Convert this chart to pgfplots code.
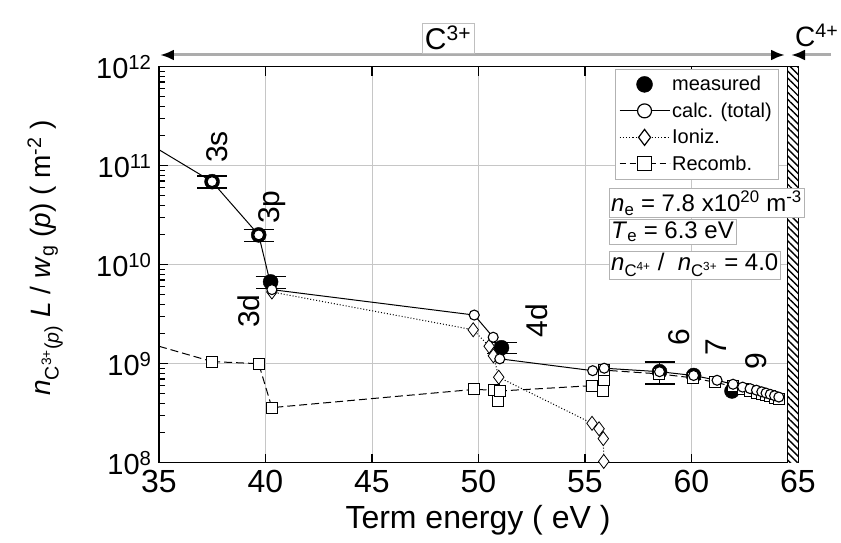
\documentclass[border=0pt]{standalone}
\usepackage{fontspec}
\setmainfont{Liberation Sans}
\usepackage{pgfplots}
\pgfplotsset{compat=1.18}
\usetikzlibrary{patterns.meta,arrows.meta}
\newcommand{\fs}[1]{\fontsize{#1}{#1}\selectfont}

\begin{document}
\begin{tikzpicture}
\begin{axis}[
  name=ax, at={(0,0)}, anchor=south west,
  scale only axis, width=639pt, height=396pt,
  xmin=35, xmax=65, ymode=log, ymin=1e8, ymax=1e12,
  xtick={35,40,45,50,55,60,65},
  xticklabels={35,40,45,50,55,60,65},
  ytick={1e8,1e9,1e10,1e11,1e12},
  yticklabels={10\textsuperscript{8},10\textsuperscript{9},10\textsuperscript{10},10\textsuperscript{11},10\textsuperscript{12}},
  grid=major, major grid style={gray!45, line width=0.9pt},
  axis line style={line width=1.6pt},
  major tick length=9pt, minor tick length=6pt,
  every tick/.style={black, line width=1.1pt},
  tick align=inside,
  xticklabel style={font=\fs{32}, yshift=-4pt},
  yticklabel style={font=\fs{29}, xshift=-4pt},
  legend style={at={(axis description cs:0.9687,0.9937)}, anchor=north east,
    draw=gray!60, font=\fs{20}, row sep=6.5pt, inner xsep=4pt, inner ysep=5pt},
  legend cell align=left,
  legend image code/.code={\draw[mark repeat=2,mark phase=2,#1] plot coordinates {(0pt,0pt) (25pt,0pt) (50pt,0pt)};},
]

% ionisation limit (hatched)
\fill[white] (axis cs:64.49,1e8) rectangle (axis cs:65,1e12);
\fill[pattern={Lines[angle=-45,distance=5pt,line width=1.4pt]}] (axis cs:64.49,1e8) rectangle (axis cs:65,1e12);
\draw[line width=1.2pt] (axis cs:64.49,1e8) -- (axis cs:64.49,1e12);

% lines from lower levels entering the frame
\addplot[black, line width=1pt, forget plot] coordinates {(35,1.45e11) (37.49,6.9e10)};
\addplot[black, line width=1pt, dash pattern=on 8pt off 4pt, forget plot] coordinates {(35,1.5e9) (37.49,1.05e9)};

% measured with error bars
\addplot[only marks, mark=*, mark size=7.5pt, black, forget plot,
  error bars/.cd, y dir=both, y explicit relative,
  error bar style={line width=1.3pt, black},
  error mark options={rotate=90, mark size=15pt, line width=1.3pt}]
  table[x=x, y=y, y error=e] {
x      y       e
37.49  6.9e10  0.14
39.68  2.0e10  0.14
40.24  6.7e9   0.14
51.08  1.45e9  0.12
58.50  8.3e8   0.25
};
\addplot[only marks, mark=*, mark size=7.5pt, black, forget plot] coordinates {
(60.10,7.6e8) (61.90,5.3e8)
};

% recombination
\addplot[black, line width=1pt, dash pattern=on 8pt off 4pt, mark=square*,
  mark size=5.5pt, mark options={solid, fill=white, draw=black, line width=0.8pt}, forget plot]
  coordinates {
(37.49,1.05e9) (39.68,1.0e9) (40.30,3.6e8) (49.80,5.5e8) (50.70,5.4e8)
(50.93,4.2e8) (51.00,5.3e8) (55.33,6.0e8) (55.86,5.3e8) (55.88,6.8e8)
(55.90,8.6e8) (58.45,7.9e8) (60.05,7.2e8) (61.09,6.5e8) (61.95,5.9e8)
(62.40,5.5e8) (62.75,5.3e8) (63.05,5.1e8) (63.30,4.9e8) (63.50,4.8e8)
(63.70,4.7e8) (63.90,4.55e8) (64.10,4.45e8)
};

% ionisation
\addplot[black, line width=1pt, dotted, mark=diamond*,
  mark size=7pt, mark options={solid, fill=white, draw=black, line width=0.8pt}, forget plot]
  coordinates {
(40.30,5.3e9) (49.75,2.2e9) (50.50,1.5e9) (50.70,1.2e9) (50.95,7.3e8)
(55.33,2.5e8) (55.66,2.2e8) (55.86,1.75e8) (55.88,1.03e8)
};

% calculated total
\addplot[black, line width=1pt, mark=*,
  mark size=5pt, mark options={fill=white, draw=black, line width=1.1pt}, forget plot]
  coordinates {
(37.49,6.9e10) (39.68,2.0e10) (40.30,5.6e9) (49.80,3.1e9) (50.69,1.85e9)
(51.00,1.12e9) (55.36,8.5e8) (55.90,9.0e8) (58.50,8.3e8) (60.10,7.6e8)
(61.20,6.8e8) (61.95,6.2e8) (62.40,5.8e8) (62.75,5.6e8) (63.05,5.4e8)
(63.30,5.2e8) (63.50,5.05e8) (63.70,4.9e8) (63.90,4.75e8) (64.10,4.6e8)
};

% legend
\addlegendimage{only marks, mark=*, mark size=8pt, black}
\addlegendentry{measured}
\addlegendimage{black, line width=1.2pt, mark=*, mark size=7pt, mark options={fill=white, draw=black}}
\addlegendentry{calc. (total)}
\addlegendimage{black, line width=1.2pt, dotted, mark=diamond*, mark size=8pt, mark options={solid, fill=white, draw=black}}
\addlegendentry{Ioniz.}
\addlegendimage{black, line width=1.2pt, dash pattern=on 6pt off 4pt, mark=square*, mark size=7pt, mark options={solid, fill=white, draw=black}}
\addlegendentry{Recomb.}

% level labels
\node[rotate=90, font=\fs{30}] at (axis cs:37.72,1.55e11) {3s};
\node[rotate=90, font=\fs{30}] at (axis cs:40.33,3.8e10) {3p};
\node[rotate=90, font=\fs{30}] at (axis cs:39.20,3.4e9) {3d};
\node[rotate=90, font=\fs{30}] at (axis cs:52.74,2.73e9) {4d};
\node[rotate=90, font=\fs{30}] at (axis cs:59.42,1.86e9) {6};
\node[rotate=90, font=\fs{30}] at (axis cs:61.15,1.48e9) {7};
\node[rotate=90, font=\fs{30}] at (axis cs:63.03,1.05e9) {9};
\end{axis}

% plasma parameters
\node[draw=gray!60, fill=white, anchor=west, inner sep=2pt, font=\fs{24}] at (450pt,259.7pt)
  {\textit{n}\textsubscript{e} = 7.8 x10\textsuperscript{20} m\textsuperscript{-3}};
\node[draw=gray!60, fill=white, anchor=west, inner sep=2pt, font=\fs{24}] at (450pt,231pt)
  {\textit{T}\textsubscript{e} = 6.3 eV};
\node[draw=gray!60, fill=white, anchor=west, inner sep=2pt, font=\fs{24}] at (450pt,197.7pt)
  {\textit{n}\textsubscript{C\textsuperscript{4+}} /\ \ \textit{n}\textsubscript{C\textsuperscript{3+}} = 4.0};

% axis titles
\node[rotate=90, font=\fs{28}] at (-114pt,204.7pt)
  {\textit{n}\textsubscript{C\textsuperscript{3+}(\textit{p})} \textit{L} / \textit{w}\textsubscript{g} (\textit{p}) ( m\textsuperscript{-2} )};
\node[font=\fs{32}] at (319pt,-57.3pt) {Term energy ( eV )};

% charge state arrows
\draw[gray!65, line width=3pt, {Latex[black,length=14pt,width=11pt]}-{Latex[black,length=14pt,width=11pt]}]
  (1pt,407.7pt) -- (626pt,407.7pt);
\draw[gray!65, line width=3pt, -{Latex[black,length=14pt,width=11pt]}]
  (672pt,407.7pt) -- (632pt,407.7pt);
\node[draw=gray!50, fill=white, inner sep=3pt, anchor=south, font=\fs{30}] at (289pt,409.5pt) {C\textsuperscript{3+}};
\node[anchor=west, inner sep=0pt, font=\fs{28}] at (636pt,427pt) {C\textsuperscript{4+}};

\pgfresetboundingbox
\path[use as bounding box] (-159pt,-79.3pt) rectangle (682pt,462.7pt);
\end{tikzpicture}
\end{document}
